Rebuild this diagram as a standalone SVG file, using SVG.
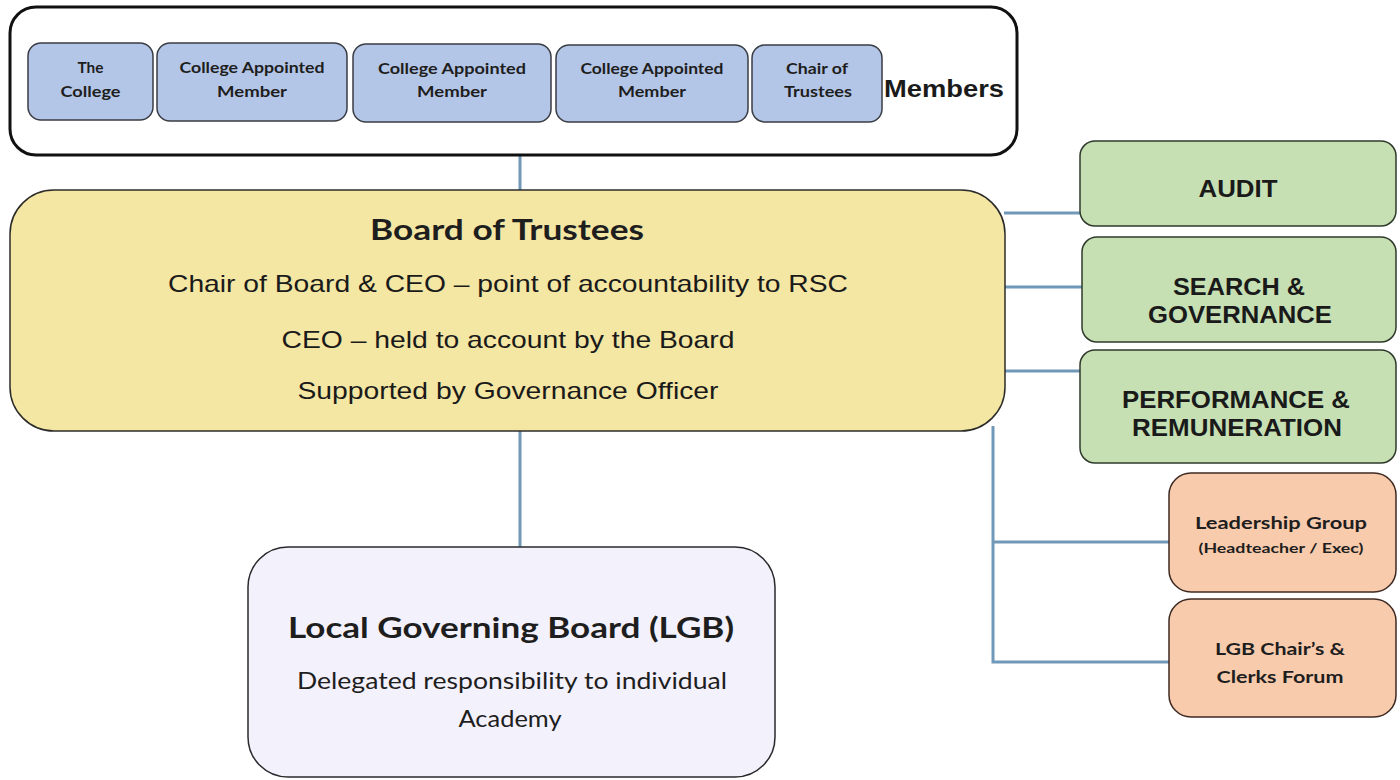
<svg xmlns="http://www.w3.org/2000/svg" width="1400" height="780" viewBox="0 0 1400 780">
<style>
.conn{stroke:#7098b8;stroke-width:3;fill:none}
.mem{fill:#b4c6e7;stroke:#3a3d44;stroke-width:1.5}
.com{fill:#c6e0b4;stroke:#2f3a2c;stroke-width:1.5}
.org{fill:#f8cbad;stroke:#3e2a22;stroke-width:1.5}
.cal{font-family:Lato,"Open Sans",sans-serif;font-weight:bold;fill:#1e1e1e;text-anchor:middle}
.caln{font-family:Lato,"Open Sans",sans-serif;font-weight:normal;fill:#1e1e1e;text-anchor:middle}
.mt{font-family:Lato,"Open Sans",sans-serif;font-weight:bold;fill:#1e1e1e;text-anchor:middle;font-size:16px}
.ari{font-family:"Liberation Sans",Arial,sans-serif;fill:#1a1a1a;text-anchor:middle}
</style>
<rect width="1400" height="780" fill="#ffffff"/>
<g id="connectors">
<line class="conn" x1="520" y1="155" x2="520" y2="191"/>
<line class="conn" x1="520" y1="430" x2="520" y2="548"/>
<line class="conn" x1="1004" y1="213" x2="1081" y2="213"/>
<line class="conn" x1="1004" y1="287" x2="1083" y2="287"/>
<line class="conn" x1="1004" y1="371" x2="1081" y2="371"/>
<polyline class="conn" points="993,426 993,662 1170,662"/>
<line class="conn" x1="993" y1="542" x2="1170" y2="542"/>
</g>
<g id="members">
<rect x="10" y="7" width="1007" height="148" rx="26" fill="#ffffff" stroke="#111" stroke-width="3"/>
<text class="ari" x="944" y="97" font-size="24" font-weight="bold" fill="#111" textLength="120" lengthAdjust="spacingAndGlyphs">Members</text>
</g>
<g id="the-college">
<rect class="mem" x="28" y="43" width="125" height="77" rx="13"/>
<text class="mt" x="90.5" y="73" textLength="26" lengthAdjust="spacingAndGlyphs">The</text>
<text class="mt" x="90.5" y="97" textLength="60" lengthAdjust="spacingAndGlyphs">College</text>
</g>
<g id="cam1">
<rect class="mem" x="157" y="43" width="190" height="78" rx="13"/>
<text class="mt" x="252" y="73" textLength="145" lengthAdjust="spacingAndGlyphs">College Appointed</text>
<text class="mt" x="252" y="97" textLength="70" lengthAdjust="spacingAndGlyphs">Member</text>
</g>
<g id="cam2">
<rect class="mem" x="353" y="44" width="198" height="78" rx="13"/>
<text class="mt" x="452" y="74" textLength="148" lengthAdjust="spacingAndGlyphs">College Appointed</text>
<text class="mt" x="452" y="97" textLength="70" lengthAdjust="spacingAndGlyphs">Member</text>
</g>
<g id="cam3">
<rect class="mem" x="556" y="45" width="192" height="77" rx="13"/>
<text class="mt" x="652" y="74" textLength="143" lengthAdjust="spacingAndGlyphs">College Appointed</text>
<text class="mt" x="652" y="97" textLength="68" lengthAdjust="spacingAndGlyphs">Member</text>
</g>
<g id="chair">
<rect class="mem" x="752" y="45" width="130" height="77" rx="13"/>
<text class="mt" x="817" y="74" textLength="62" lengthAdjust="spacingAndGlyphs">Chair of</text>
<text class="mt" x="818" y="97" textLength="68" lengthAdjust="spacingAndGlyphs">Trustees</text>
</g>
<g id="board">
<rect x="10" y="190" width="995" height="241" rx="44" fill="#f4e6a3" stroke="#2c2c2a" stroke-width="1.5"/>
<text class="cal" x="507" y="240" font-size="28" textLength="274" lengthAdjust="spacingAndGlyphs">Board of Trustees</text>
<text class="ari" x="508" y="292" font-size="24" textLength="680" lengthAdjust="spacingAndGlyphs">Chair of Board &amp; CEO – point of accountability to RSC</text>
<text class="ari" x="508" y="348" font-size="24" textLength="453" lengthAdjust="spacingAndGlyphs">CEO – held to account by the Board</text>
<text class="ari" x="508" y="399" font-size="24" textLength="421" lengthAdjust="spacingAndGlyphs">Supported by Governance Officer</text>
</g>
<g id="audit">
<rect class="com" x="1080" y="141" width="316" height="85" rx="15"/>
<text class="ari" x="1238" y="197" font-size="23" font-weight="bold" textLength="79" lengthAdjust="spacingAndGlyphs">AUDIT</text>
</g>
<g id="search">
<rect class="com" x="1082" y="237" width="314" height="105" rx="15"/>
<text class="ari" x="1239" y="295" font-size="23" font-weight="bold" textLength="132" lengthAdjust="spacingAndGlyphs">SEARCH &amp;</text>
<text class="ari" x="1240" y="323" font-size="23" font-weight="bold" textLength="184" lengthAdjust="spacingAndGlyphs">GOVERNANCE</text>
</g>
<g id="performance">
<rect class="com" x="1080" y="350" width="316" height="113" rx="15"/>
<text class="ari" x="1236" y="408" font-size="23" font-weight="bold" textLength="228" lengthAdjust="spacingAndGlyphs">PERFORMANCE &amp;</text>
<text class="ari" x="1237" y="436" font-size="23" font-weight="bold" textLength="210" lengthAdjust="spacingAndGlyphs">REMUNERATION</text>
</g>
<g id="leadership">
<rect class="org" x="1169" y="473" width="227" height="119" rx="22"/>
<text class="cal" x="1281" y="529" font-size="17" textLength="172" lengthAdjust="spacingAndGlyphs">Leadership Group</text>
<text class="cal" x="1281" y="553" font-size="13.5" textLength="165" lengthAdjust="spacingAndGlyphs">(Headteacher / Exec)</text>
</g>
<g id="lgb-forum">
<rect class="org" x="1169" y="599" width="227" height="118" rx="22"/>
<text class="cal" x="1280" y="655" font-size="17" textLength="130" lengthAdjust="spacingAndGlyphs">LGB Chair’s &amp;</text>
<text class="cal" x="1280" y="683" font-size="17" textLength="127" lengthAdjust="spacingAndGlyphs">Clerks Forum</text>
</g>
<g id="lgb">
<rect x="248" y="547" width="527" height="230" rx="40" fill="#f3f1fb" stroke="#2a2a2e" stroke-width="1.5"/>
<text class="cal" x="511" y="638" font-size="28" textLength="446" lengthAdjust="spacingAndGlyphs">Local Governing Board (LGB)</text>
<text class="caln" x="512" y="689" font-size="23" textLength="430" lengthAdjust="spacingAndGlyphs">Delegated responsibility to individual</text>
<text class="caln" x="510" y="727" font-size="23" textLength="103" lengthAdjust="spacingAndGlyphs">Academy</text>
</g>
</svg>
